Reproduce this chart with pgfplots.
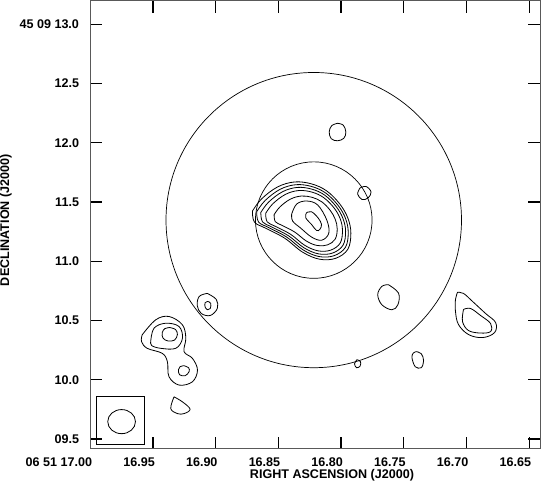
\documentclass[border=0pt]{standalone}
\usepackage{fontspec}
\setmainfont{Liberation Sans}
\usepackage{pgfplots}
\pgfplotsset{compat=1.18}
\begin{document}
\begin{tikzpicture}
\begin{axis}[
  scale only axis, width=448pt, height=446pt,
  x dir=reverse,
  xmin=16.6411, xmax=17.0,
  ymin=9.4178, ymax=13.2,
  xtick={16.65,16.70,16.75,16.80,16.85,16.90,16.95,17.00},
  xticklabels={16.65,16.70,16.75,16.80,16.85,16.90,16.95,06 51 17.00},
  ytick={9.5,10.0,10.5,11.0,11.5,12.0,12.5,13.0},
  yticklabels={09.5,10.0,10.5,11.0,11.5,12.0,12.5,45 09 13.0},
  xtick pos=both, ytick pos=both,
  tick align=inside, major tick length=12pt,
  tick style={draw=black, line width=1.2pt},
  axis line style={draw=gray!70!black, line width=1.2pt},
  tick label style={font=\fontsize{12.5}{14}\selectfont\bfseries},
  xticklabel style={anchor=north east, inner sep=0pt, yshift=-9pt, xshift=2pt},
  yticklabel style={anchor=east, inner sep=0pt, xshift=-11pt},
  xlabel={RIGHT ASCENSION (J2000)}, ylabel={DECLINATION (J2000)},
  label style={font=\fontsize{12.5}{14}\selectfont\bfseries},
  xlabel style={at={(axis description cs:0.537,0)}, anchor=north, inner sep=0pt, yshift=-20pt},
  ylabel style={at={(axis description cs:-0.1875,0.51)}, anchor=center, inner sep=0pt},
  cont/.style={black, line width=0.8pt, smooth, tension=0.6, mark=none},
]
% annuli round the source
\draw[black, line width=0.7pt] (axis cs:16.8218,11.3475) ellipse [x radius=0.1178, y radius=1.2458];
\draw[black, line width=0.7pt] (axis cs:16.8218,11.3475) ellipse [x radius=0.04648, y radius=0.4915];

% main source, outer to inner
\addplot[cont] coordinates {(16.8707,11.4237) (16.8635,11.5254) (16.8507,11.6271) (16.8370,11.6695) (16.8234,11.6526) (16.8114,11.5932) (16.8010,11.4831) (16.7946,11.3644) (16.7922,11.2373) (16.7946,11.1017) (16.8042,11.0254) (16.8170,11.0170) (16.8306,11.0763) (16.8450,11.1949) (16.8603,11.2797) (16.8691,11.3305) (16.8707,11.4237)};
\addplot[cont] coordinates {(16.8673,11.4178) (16.8606,11.5124) (16.8487,11.6069) (16.8360,11.6464) (16.8233,11.6306) (16.8122,11.5754) (16.8025,11.4730) (16.7965,11.3626) (16.7943,11.2444) (16.7965,11.1183) (16.8055,11.0474) (16.8174,11.0395) (16.8301,11.0947) (16.8435,11.2050) (16.8576,11.2839) (16.8658,11.3311) (16.8673,11.4178)};
\addplot[cont] coordinates {(16.8640,11.4118) (16.8578,11.4993) (16.8467,11.5868) (16.8350,11.6232) (16.8233,11.6087) (16.8130,11.5576) (16.8040,11.4629) (16.7985,11.3608) (16.7964,11.2515) (16.7985,11.1349) (16.8068,11.0693) (16.8178,11.0621) (16.8295,11.1131) (16.8419,11.2151) (16.8550,11.2880) (16.8626,11.3317) (16.8640,11.4118)};
\addplot[cont] coordinates {(16.8601,11.4051) (16.8545,11.4844) (16.8445,11.5637) (16.8339,11.5968) (16.8232,11.5836) (16.8139,11.5373) (16.8057,11.4514) (16.8007,11.3588) (16.7989,11.2597) (16.8007,11.1539) (16.8082,11.0944) (16.8182,11.0878) (16.8289,11.1341) (16.8401,11.2266) (16.8520,11.2927) (16.8589,11.3324) (16.8601,11.4051)};
\addplot[cont] coordinates {(16.8534,11.3932) (16.8488,11.4583) (16.8406,11.5234) (16.8318,11.5505) (16.8231,11.5397) (16.8154,11.5017) (16.8088,11.4312) (16.8047,11.3553) (16.8031,11.2739) (16.8047,11.1871) (16.8108,11.1383) (16.8190,11.1329) (16.8277,11.1709) (16.8370,11.2468) (16.8467,11.3010) (16.8524,11.3336) (16.8534,11.3932)};
\addplot[cont] coordinates {(16.8394,11.3983) (16.8354,11.4831) (16.8274,11.5085) (16.8186,11.4746) (16.8114,11.3475) (16.8098,11.2373) (16.8154,11.1780) (16.8234,11.2034) (16.8322,11.2797) (16.8386,11.3390) (16.8394,11.3983)};
\addplot[cont] coordinates {(16.8276,11.4093) (16.8236,11.4178) (16.8184,11.3670) (16.8156,11.3110) (16.8170,11.2687) (16.8196,11.2602) (16.8236,11.3110) (16.8282,11.3670) (16.8276,11.4093)};

% small components
\addplot[cont] coordinates {(16.8028,12.1644) (16.7982,12.1483) (16.7962,12.0907) (16.7978,12.0381) (16.8028,12.0170) (16.8078,12.0339) (16.8095,12.0907) (16.8075,12.1441) (16.8028,12.1644)};
\addplot[cont] coordinates {(16.7849,11.6187) (16.7801,11.6314) (16.7761,11.5848) (16.7785,11.5339) (16.7833,11.5212) (16.7868,11.5678) (16.7849,11.6187)};
\addplot[cont] coordinates {(16.7623,10.8026) (16.7542,10.7314) (16.7547,10.6331) (16.7595,10.5907) (16.7675,10.6331) (16.7708,10.7178) (16.7675,10.7881) (16.7623,10.8026)};
\addplot[cont] coordinates {(16.9067,10.7288) (16.8995,10.6780) (16.8987,10.6017) (16.9043,10.5424) (16.9115,10.5593) (16.9147,10.6271) (16.9131,10.7034) (16.9067,10.7288)};
\addplot[cont] coordinates {(16.9062,10.6610) (16.9039,10.6441) (16.9043,10.6017) (16.9063,10.5907) (16.9083,10.6102) (16.9085,10.6483) (16.9062,10.6610)};
\addplot[cont] coordinates {(16.7401,10.2373) (16.7361,10.2203) (16.7342,10.1610) (16.7361,10.1017) (16.7409,10.1102) (16.7435,10.1864) (16.7425,10.2246) (16.7401,10.2373)};
\addplot[cont] coordinates {(16.7873,10.1695) (16.7845,10.1525) (16.7849,10.1144) (16.7877,10.1017) (16.7893,10.1356) (16.7873,10.1695)};
\addplot[cont] coordinates {(16.7072,10.7373) (16.7024,10.7288) (16.6952,10.6610) (16.6848,10.5593) (16.6768,10.4831) (16.6776,10.3983) (16.6872,10.3559) (16.6984,10.3814) (16.7064,10.4661) (16.7088,10.5763) (16.7088,10.6780) (16.7072,10.7373)};
\addplot[cont] coordinates {(16.7024,10.5932) (16.6968,10.6017) (16.6888,10.5424) (16.6808,10.4746) (16.6808,10.4068) (16.6888,10.3941) (16.6984,10.4153) (16.7032,10.4915) (16.7024,10.5932)};
\addplot[cont] coordinates {(16.9586,10.3788) (16.9478,10.5059) (16.9372,10.5339) (16.9265,10.4636) (16.9238,10.3500) (16.9252,10.2373) (16.9185,10.1805) (16.9145,10.0822) (16.9185,9.9831) (16.9292,9.9551) (16.9372,10.0254) (16.9385,10.1525) (16.9426,10.2229) (16.9546,10.2653) (16.9591,10.3220) (16.9586,10.3788)};
\addplot[cont] coordinates {(16.9518,10.3220) (16.9492,10.4348) (16.9398,10.4771) (16.9292,10.4492) (16.9265,10.3500) (16.9318,10.2653) (16.9438,10.2653) (16.9510,10.2881) (16.9518,10.3220)};
\addplot[cont] coordinates {(16.9365,10.4407) (16.9320,10.4237) (16.9305,10.3814) (16.9328,10.3348) (16.9380,10.3271) (16.9420,10.3517) (16.9426,10.3983) (16.9404,10.4322) (16.9365,10.4407)};
\addplot[cont] coordinates {(16.9254,10.1186) (16.9216,10.1017) (16.9212,10.0678) (16.9244,10.0339) (16.9288,10.0424) (16.9297,10.0848) (16.9284,10.1102) (16.9254,10.1186)};
\addplot[cont] coordinates {(16.9332,9.8559) (16.9358,9.7568) (16.9305,9.7144) (16.9252,9.7144) (16.9204,9.7517) (16.9265,9.8136) (16.9332,9.8559)};

% beam
\draw[black, line width=0.7pt] (axis cs:16.9951,9.8559) rectangle (axis cs:16.9570,9.4551);
\draw[black, line width=0.8pt] (axis cs:16.9750,9.6466) ellipse [x radius=0.01106, y radius=0.1017];
\end{axis}
\end{tikzpicture}
\end{document}
